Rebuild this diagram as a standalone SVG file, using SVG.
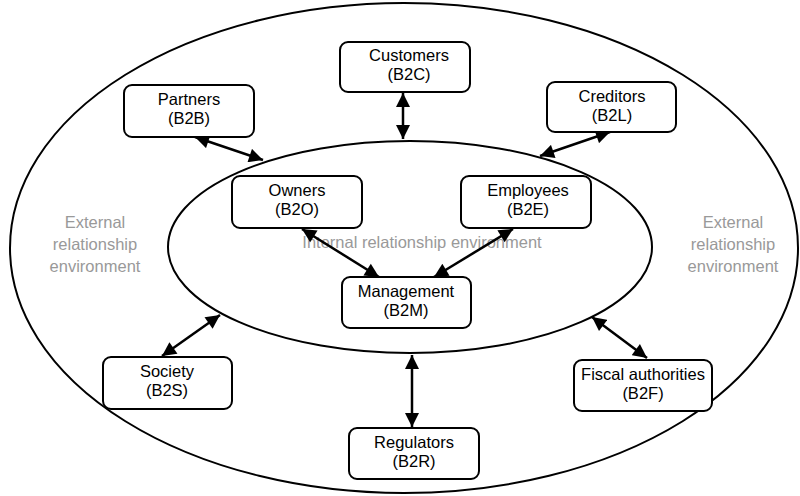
<svg xmlns="http://www.w3.org/2000/svg" width="800" height="496" viewBox="0 0 800 496">
  <style>
    .env { fill: none; stroke: #000; stroke-width: 2; }
    .box rect { fill: #fff; stroke: #000; stroke-width: 2; }
    .box text { font-family: "Liberation Sans", Arial, sans-serif; font-size: 16.5px; fill: #000; text-anchor: middle; }
    .zone { font-family: "Liberation Sans", Arial, sans-serif; font-size: 16.5px; fill: #999; text-anchor: middle; }
    .link { stroke: #000; stroke-width: 2.5; fill: none; marker-start: url(#head); marker-end: url(#head); }
  </style>
  <defs>
    <marker id="head" viewBox="0 0 10 10" refX="10" refY="5" markerUnits="userSpaceOnUse" markerWidth="15" markerHeight="14" orient="auto-start-reverse">
      <path d="M0,0 L10,5 L0,10 Z" fill="#000"/>
    </marker>
  </defs>
  <rect width="800" height="496" fill="#fff"/>

  <!-- relationship environments -->
  <ellipse class="env" cx="404" cy="248" rx="394" ry="245"/>
  <ellipse class="env" cx="410" cy="247" rx="242" ry="106"/>

  <text class="zone" x="95" y="228">External</text>
  <text class="zone" x="95" y="250">relationship</text>
  <text class="zone" x="95" y="272">environment</text>
  <text class="zone" x="733" y="228">External</text>
  <text class="zone" x="733" y="250">relationship</text>
  <text class="zone" x="733" y="272">environment</text>
  <text class="zone" x="422" y="248">Internal relationship environment</text>

  <!-- connectors -->
  <g id="connectors">
    <line class="link" x1="403" y1="93" x2="403" y2="139"/>
    <line class="link" x1="195" y1="137" x2="263" y2="160"/>
    <line class="link" x1="610" y1="132" x2="540" y2="156"/>
    <line class="link" x1="302" y1="229" x2="379" y2="277"/>
    <line class="link" x1="513" y1="229" x2="434" y2="277"/>
    <line class="link" x1="162" y1="356" x2="220" y2="315"/>
    <line class="link" x1="412" y1="355" x2="412" y2="427"/>
    <line class="link" x1="592" y1="317" x2="647" y2="358"/>
  </g>

  <!-- nodes -->
  <g id="customers" class="box">
    <rect x="340" y="42" width="130" height="50" rx="8"/>
    <text x="409" y="61">Customers</text>
    <text x="409" y="80">(B2C)</text>
  </g>
  <g id="partners" class="box">
    <rect x="124" y="85" width="130" height="52" rx="8"/>
    <text x="189" y="105">Partners</text>
    <text x="189" y="124">(B2B)</text>
  </g>
  <g id="creditors" class="box">
    <rect x="547" y="82" width="129" height="50" rx="8"/>
    <text x="612" y="102">Creditors</text>
    <text x="612" y="121">(B2L)</text>
  </g>
  <g id="owners" class="box">
    <rect x="232" y="176" width="130" height="52" rx="8"/>
    <text x="297" y="196">Owners</text>
    <text x="297" y="215">(B2O)</text>
  </g>
  <g id="employees" class="box">
    <rect x="461" y="176" width="130" height="52" rx="8"/>
    <text x="528" y="196">Employees</text>
    <text x="528" y="215">(B2E)</text>
  </g>
  <g id="management" class="box">
    <rect x="342" y="277" width="129" height="51" rx="8"/>
    <text x="406" y="297">Management</text>
    <text x="406" y="316">(B2M)</text>
  </g>
  <g id="society" class="box">
    <rect x="103" y="357" width="129" height="52" rx="8"/>
    <text x="167" y="377">Society</text>
    <text x="167" y="396">(B2S)</text>
  </g>
  <g id="regulators" class="box">
    <rect x="349" y="428" width="130" height="51" rx="8"/>
    <text x="414" y="448">Regulators</text>
    <text x="414" y="467">(B2R)</text>
  </g>
  <g id="fiscal" class="box">
    <rect x="574" y="360" width="138" height="51" rx="8"/>
    <text x="643" y="380">Fiscal authorities</text>
    <text x="643" y="399">(B2F)</text>
  </g>
</svg>
